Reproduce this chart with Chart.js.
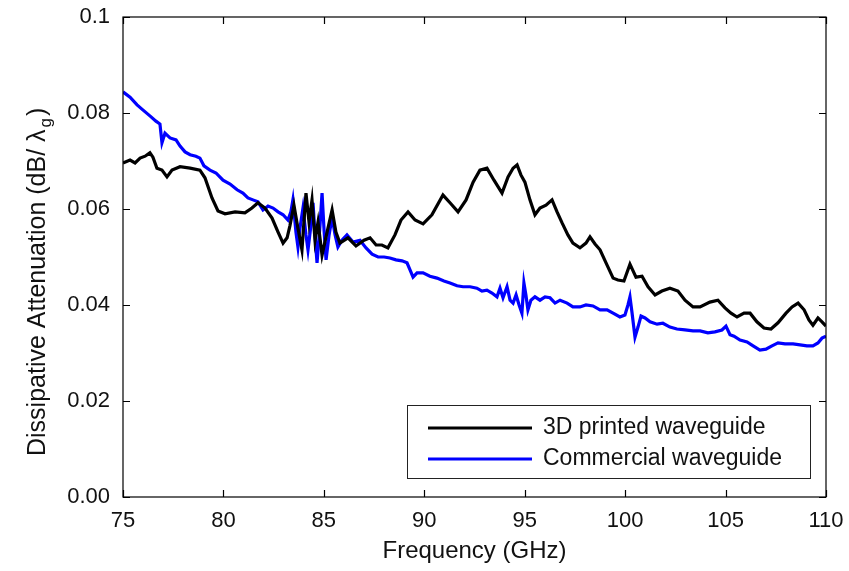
<!DOCTYPE html>
<html>
<head>
<meta charset="utf-8">
<script src="https://cdn.jsdelivr.net/npm/chart.js@4.4.1/dist/chart.umd.min.js"></script>
<style>
  html, body { margin: 0; padding: 0; background: #fff; }
  #wrap { width: 849px; height: 571px; position: relative; }
</style>
</head>
<body>
<div id="wrap"><canvas id="myChart"></canvas></div>
<script>
// 3D printed waveguide (black)
const printedFreq = [75.00, 75.35, 75.60, 75.85, 76.10, 76.34, 76.49, 76.69, 76.94, 77.19, 77.44, 77.84, 78.34, 78.83, 79.08, 79.43, 79.73, 80.08, 80.58, 81.07, 81.42, 81.72, 82.07, 82.42, 82.72, 82.97, 83.17, 83.31, 83.51, 83.71, 83.91, 84.11, 84.26, 84.41, 84.56, 84.71, 84.91, 85.16, 85.41, 85.60, 85.80, 86.20, 86.60, 87.00, 87.30, 87.60, 87.89, 88.19, 88.54, 88.84, 89.19, 89.54, 89.94, 90.38, 90.93, 91.28, 91.68, 92.08, 92.43, 92.77, 93.12, 93.47, 93.87, 94.17, 94.42, 94.62, 94.81, 95.01, 95.26, 95.51, 95.76, 96.06, 96.36, 96.61, 96.86, 97.15, 97.40, 97.75, 98.05, 98.25, 98.50, 98.75, 99.10, 99.40, 99.64, 99.94, 100.24, 100.54, 100.84, 101.14, 101.49, 101.83, 102.23, 102.63, 102.98, 103.38, 103.73, 104.22, 104.62, 104.97, 105.27, 105.57, 105.92, 106.22, 106.56, 106.91, 107.26, 107.61, 108.01, 108.31, 108.61, 108.91, 109.15, 109.35, 109.60, 109.80, 110.00];
const printedAtt = [0.0696, 0.0702, 0.0696, 0.0706, 0.0710, 0.0717, 0.0708, 0.0685, 0.0681, 0.0667, 0.0681, 0.0688, 0.0685, 0.0681, 0.0665, 0.0623, 0.0596, 0.0590, 0.0594, 0.0592, 0.0602, 0.0613, 0.0602, 0.0581, 0.0552, 0.0529, 0.0540, 0.0565, 0.0608, 0.0560, 0.0515, 0.0633, 0.0573, 0.0619, 0.0535, 0.0573, 0.0504, 0.0552, 0.0598, 0.0552, 0.0529, 0.0540, 0.0523, 0.0535, 0.0540, 0.0525, 0.0525, 0.0519, 0.0546, 0.0577, 0.0594, 0.0577, 0.0569, 0.0588, 0.0629, 0.0613, 0.0594, 0.0619, 0.0656, 0.0681, 0.0685, 0.0660, 0.0633, 0.0667, 0.0685, 0.0692, 0.0671, 0.0656, 0.0619, 0.0588, 0.0602, 0.0608, 0.0619, 0.0594, 0.0571, 0.0546, 0.0529, 0.0519, 0.0529, 0.0542, 0.0527, 0.0515, 0.0483, 0.0456, 0.0452, 0.0450, 0.0485, 0.0458, 0.0460, 0.0438, 0.0421, 0.0429, 0.0435, 0.0429, 0.0410, 0.0396, 0.0396, 0.0406, 0.0410, 0.0394, 0.0383, 0.0375, 0.0383, 0.0383, 0.0365, 0.0352, 0.0350, 0.0363, 0.0383, 0.0396, 0.0404, 0.0390, 0.0369, 0.0358, 0.0373, 0.0365, 0.0356];

// Commercial waveguide (blue)
const commercialFreq = [75.00, 75.35, 75.70, 76.00, 76.34, 76.64, 76.84, 76.94, 77.09, 77.34, 77.64, 77.84, 78.09, 78.34, 78.63, 78.83, 79.03, 79.33, 79.63, 79.98, 80.33, 80.68, 80.97, 81.22, 81.47, 81.72, 81.97, 82.22, 82.47, 82.72, 82.97, 83.21, 83.36, 83.46, 83.61, 83.71, 83.81, 83.96, 84.11, 84.21, 84.36, 84.46, 84.56, 84.66, 84.81, 84.91, 85.01, 85.11, 85.26, 85.41, 85.56, 85.70, 85.90, 86.15, 86.45, 86.80, 87.10, 87.40, 87.70, 88.00, 88.29, 88.59, 88.89, 89.14, 89.29, 89.44, 89.64, 89.94, 90.28, 90.63, 90.98, 91.28, 91.63, 91.93, 92.28, 92.62, 92.87, 93.12, 93.37, 93.62, 93.77, 93.92, 94.12, 94.27, 94.42, 94.57, 94.72, 94.86, 94.96, 95.06, 95.16, 95.31, 95.51, 95.76, 96.01, 96.26, 96.51, 96.76, 97.11, 97.40, 97.75, 98.05, 98.40, 98.75, 99.10, 99.40, 99.74, 99.99, 100.14, 100.24, 100.34, 100.49, 100.64, 100.79, 100.99, 101.24, 101.59, 101.88, 102.23, 102.58, 102.98, 103.38, 103.73, 104.12, 104.47, 104.82, 105.02, 105.22, 105.42, 105.72, 106.07, 106.37, 106.71, 107.01, 107.31, 107.61, 107.96, 108.36, 108.71, 109.05, 109.35, 109.60, 109.80, 110.00];
const commercialAtt = [0.0844, 0.0833, 0.0817, 0.0806, 0.0794, 0.0783, 0.0777, 0.0738, 0.0758, 0.0748, 0.0744, 0.0731, 0.0719, 0.0713, 0.0710, 0.0706, 0.0690, 0.0681, 0.0675, 0.0660, 0.0652, 0.0640, 0.0633, 0.0623, 0.0619, 0.0615, 0.0598, 0.0606, 0.0602, 0.0594, 0.0588, 0.0577, 0.0594, 0.0619, 0.0552, 0.0521, 0.0560, 0.0602, 0.0546, 0.0515, 0.0567, 0.0613, 0.0546, 0.0488, 0.0567, 0.0633, 0.0556, 0.0494, 0.0546, 0.0583, 0.0546, 0.0521, 0.0535, 0.0546, 0.0531, 0.0535, 0.0519, 0.0506, 0.0500, 0.0500, 0.0498, 0.0494, 0.0492, 0.0488, 0.0473, 0.0458, 0.0467, 0.0467, 0.0460, 0.0456, 0.0450, 0.0446, 0.0440, 0.0438, 0.0438, 0.0435, 0.0429, 0.0431, 0.0425, 0.0417, 0.0435, 0.0415, 0.0438, 0.0410, 0.0404, 0.0421, 0.0400, 0.0383, 0.0446, 0.0421, 0.0390, 0.0410, 0.0417, 0.0410, 0.0417, 0.0415, 0.0404, 0.0410, 0.0404, 0.0396, 0.0396, 0.0400, 0.0398, 0.0390, 0.0390, 0.0383, 0.0375, 0.0379, 0.0400, 0.0417, 0.0385, 0.0333, 0.0354, 0.0377, 0.0373, 0.0365, 0.0360, 0.0362, 0.0354, 0.0350, 0.0348, 0.0346, 0.0346, 0.0342, 0.0344, 0.0348, 0.0356, 0.0338, 0.0335, 0.0327, 0.0323, 0.0315, 0.0306, 0.0308, 0.0315, 0.0321, 0.0319, 0.0319, 0.0317, 0.0315, 0.0315, 0.0321, 0.0331, 0.0335];

const xTicks = [75, 80, 85, 90, 95, 100, 105, 110];
const xTickLabels = ["75", "80", "85", "90", "95", "100", "105", "110"];
const yTicks = [0, 0.02, 0.04, 0.06, 0.08, 0.1];
const yTickLabels = ["0.00", "0.02", "0.04", "0.06", "0.08", "0.1"];
const seriesLabels = ["3D printed waveguide", "Commercial waveguide"];

const FONT = "'Liberation Sans', Arial, Helvetica, sans-serif";

function pairs(xs, ys) {
  return xs.map((x, i) => ({ x: x, y: ys[i] }));
}

// frame, inward ticks, axis titles and the boxed legend
const decorPlugin = {
  id: "decor",
  afterDraw(chart) {
    const ctx = chart.ctx;
    const { left, right, top, bottom } = chart.chartArea;
    const xs = chart.scales.x;
    const ys = chart.scales.y;
    const tl = 7;
    ctx.save();
    ctx.strokeStyle = "#000";
    ctx.lineWidth = 1.2;
    ctx.strokeRect(left, top, right - left, bottom - top);
    ctx.beginPath();
    xTicks.forEach((v) => {
      const px = Math.round(xs.getPixelForValue(v)) + 0.5;
      ctx.moveTo(px, bottom); ctx.lineTo(px, bottom - tl);
      ctx.moveTo(px, top); ctx.lineTo(px, top + tl);
    });
    yTicks.forEach((v) => {
      const py = Math.round(ys.getPixelForValue(v)) + 0.5;
      ctx.moveTo(left, py); ctx.lineTo(left + tl, py);
      ctx.moveTo(right, py); ctx.lineTo(right - tl, py);
    });
    ctx.stroke();

    // x title
    ctx.fillStyle = "#111";
    ctx.font = "24px " + FONT;
    ctx.textAlign = "center";
    ctx.textBaseline = "middle";
    ctx.fillText("Frequency (GHz)", (left + right) / 2, 551);

    // y title with subscript g
    ctx.translate(38, 456);
    ctx.rotate(-Math.PI / 2);
    ctx.textAlign = "left";
    ctx.textBaseline = "middle";
    const main = "Dissipative Attenuation (dB/ \u03bb";
    ctx.font = "25px " + FONT;
    ctx.fillText(main, 0, 0);
    let w = ctx.measureText(main).width + 2;
    ctx.font = "17px " + FONT;
    ctx.fillText("g", w, 8);
    w += ctx.measureText("g").width;
    ctx.font = "25px " + FONT;
    ctx.fillText(")", w + 2, 0);
    ctx.setTransform(1, 0, 0, 1, 0, 0);

    // legend box
    const bx = 407, by = 405, bw = 403, bh = 73;
    ctx.fillStyle = "#fff";
    ctx.fillRect(bx, by, bw, bh);
    ctx.lineWidth = 1;
    ctx.strokeStyle = "#222";
    ctx.strokeRect(bx + 0.5, by + 0.5, bw, bh);
    chart.data.datasets.forEach((ds, i) => {
      const ly = by + 23 + i * 31;
      ctx.strokeStyle = ds.borderColor;
      ctx.lineWidth = 3;
      ctx.beginPath();
      ctx.moveTo(428, ly);
      ctx.lineTo(532, ly);
      ctx.stroke();
      ctx.fillStyle = "#111";
      ctx.font = "23px " + FONT;
      ctx.textAlign = "left";
      ctx.textBaseline = "middle";
      ctx.fillText(ds.label, 543, ly);
    });
    ctx.restore();
  },
};

const ctx = document.getElementById("myChart").getContext("2d");
const myChart = new Chart(ctx, {
  type: "line",
  data: {
    datasets: [
      {
        label: seriesLabels[0],
        data: pairs(printedFreq, printedAtt),
        borderColor: "#000000",
        borderWidth: 3.2,
        pointRadius: 0,
        tension: 0,
      },
      {
        label: seriesLabels[1],
        data: pairs(commercialFreq, commercialAtt),
        borderColor: "#0000ff",
        borderWidth: 3.2,
        pointRadius: 0,
        tension: 0,
      },
    ],
  },
  options: {
    responsive: true,
    maintainAspectRatio: false,
    animation: false,
    layout: { padding: { top: 17, right: 23, left: 0, bottom: 0 } },
    plugins: {
      legend: { display: false },
      tooltip: { enabled: false },
    },
    scales: {
      x: {
        type: "linear",
        min: 75,
        max: 110,
        afterFit: (s) => {
          s.height = 74;
          s.paddingLeft = 0;
          s.paddingRight = 0;
        },
        afterBuildTicks: (s) => { s.ticks = xTicks.map((v) => ({ value: v })); },
        grid: { display: false, drawTicks: false },
        border: { display: false },
        ticks: {
          padding: 11,
          color: "#111",
          font: { family: FONT, size: 22 },
          callback: (v) => xTickLabels[xTicks.indexOf(v)],
        },
      },
      y: {
        min: 0,
        max: 0.1,
        afterFit: (s) => {
          s.width = 123;
          s.paddingTop = 0;
          s.paddingBottom = 0;
        },
        afterBuildTicks: (s) => { s.ticks = yTicks.map((v) => ({ value: v })); },
        grid: { display: false, drawTicks: false },
        border: { display: false },
        ticks: {
          padding: 13,
          color: "#111",
          font: { family: FONT, size: 22 },
          callback: (v) => yTickLabels[yTicks.indexOf(v)],
        },
      },
    },
  },
  plugins: [decorPlugin],
});
</script>
</body>
</html>
